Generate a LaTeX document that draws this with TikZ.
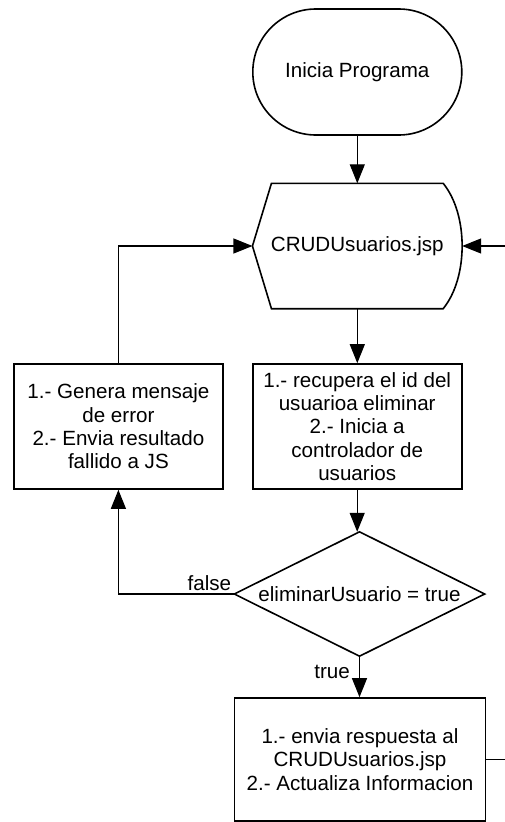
\documentclass[tikz,border=0pt]{standalone}
\usepackage{fontspec}
\setmainfont{Liberation Sans}
\usetikzlibrary{arrows.meta,calc}
\begin{document}
\begin{tikzpicture}[x=1pt,y=-1pt,
  every node/.style={font=\fontsize{20.6}{23.4}\selectfont, align=center, inner sep=0pt},
  boxshape/.style={draw, line width=1.6pt, rectangle},
  hidden/.style={rectangle},
  shapeline/.style={line width=1.6pt, line join=miter},
  conn/.style={line width=1.1pt, -{Triangle[length=19pt,width=15pt]}},
  plain/.style={line width=1.1pt},
  lbl/.style={font=\fontsize{20.6}{23.4}\selectfont}]
\useasboundingbox (0,0) rectangle (505,822);
\clip (0,0) rectangle (505,822);

% start terminal
\node[boxshape, rounded corners=63pt, minimum width=209pt, minimum height=126pt] (start) at (357.3,72) {Inicia Programa};

% display shape CRUDUsuarios.jsp
\node[hidden, minimum width=209.3pt, minimum height=125pt] (crud) at (357.3,246) {CRUDUsuarios.jsp};
\draw[shapeline] ($(crud.north west)+(19,0)$) -- (crud.west) -- ($(crud.south west)+(19,0)$)
  -- ($(crud.south east)+(-19,0)$)
  .. controls ($(crud.south east)+(6.3,-31)$) and ($(crud.north east)+(6.3,31)$) .. ($(crud.north east)+(-19,0)$)
  -- cycle;

% process boxes
\node[boxshape, minimum width=209pt, minimum height=125pt] (recup) at (357.2,426.5)
  {1.- recupera el id del\\usuarioa eliminar\\2.- Inicia a\\controlador de\\usuarios};
\node[boxshape, minimum width=209pt, minimum height=125pt] (genera) at (118.4,426.5)
  {1.- Genera mensaje\\de error\\2.- Envia resultado\\fallido a JS};

% decision diamond
\node[hidden, minimum width=250pt, minimum height=124pt] (dec) at (359.5,594) {eliminarUsuario = true};
\draw[shapeline] (dec.north) -- (dec.east) -- (dec.south) -- (dec.west) -- cycle;

% final box
\node[boxshape, minimum width=251pt, minimum height=123pt] (final) at (360,759.5)
  {1.- envia respuesta al\\CRUDUsuarios.jsp\\2.- Actualiza Informacion};

% connectors
\draw[conn] (start.south) -- (crud.north);
\draw[conn] (crud.south) -- (crud.south |- recup.north);
\draw[conn] (recup.south) -- (recup.south |- dec.north);
\draw[conn] (dec.south) -- (dec.south |- final.north);
\draw[conn] (dec.west) -| (genera.south);
\draw[conn] (genera.north) |- (crud.west);
\coordinate (ret) at (520,0);
\draw[conn] (final.east) -| (ret |- crud.east) -- (crud.east);

% labels
\node[lbl, anchor=base east] (lfalse) at ($(dec.west)+(-3,-4)$) {false};
\node[lbl, anchor=base east] (ltrue) at ($(dec.south)+(-9.5,22)$) {true};
\end{tikzpicture}
\end{document}
